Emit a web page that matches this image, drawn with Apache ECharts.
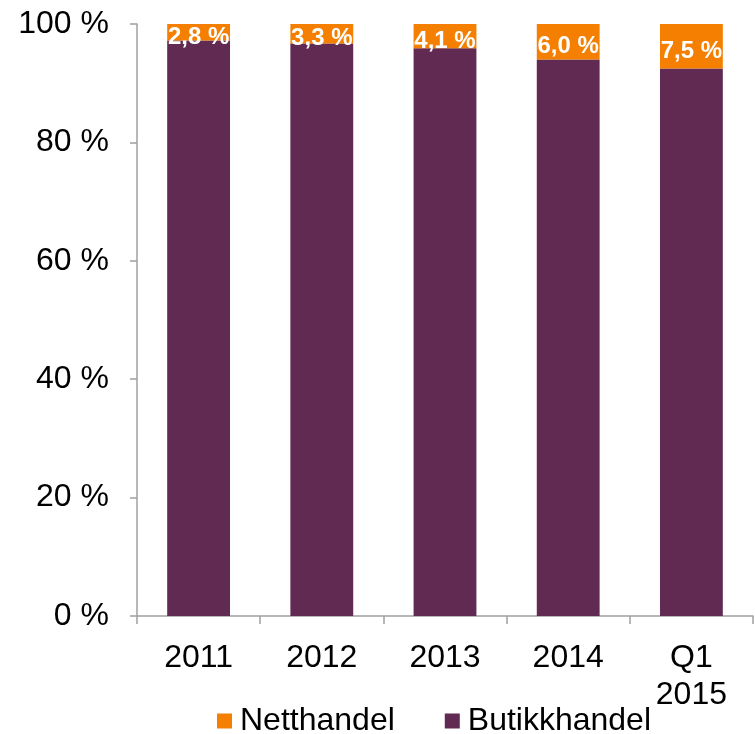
<!DOCTYPE html>
<html>
<head>
<meta charset="utf-8">
<script src="https://cdn.jsdelivr.net/npm/echarts@6/dist/echarts.min.js"></script>
<style>
  html, body { margin: 0; padding: 0; background: #fff; }
  #main { width: 755px; height: 734px; }
</style>
</head>
<body>
<div id="main"></div>
<script>
const categories = ['2011', '2012', '2013', '2014', 'Q1\n2015'];
const netthandel = [2.8, 3.3, 4.1, 6.0, 7.5];
const butikkhandel = [97.2, 96.7, 95.9, 94.0, 92.5];
const yTicks = [0, 20, 40, 60, 80, 100];

const font = 'Liberation Sans, Arial, sans-serif';
const chart = echarts.init(document.getElementById('main'));

chart.setOption({
  animation: false,
  grid: { left: 137, right: 2, top: 24, bottom: 118, containLabel: false },
  legend: {
    bottom: -8,
    left: 212,
    itemWidth: 15,
    itemHeight: 15,
    itemGap: 50,
    icon: 'rect',
    textStyle: { fontFamily: font, fontSize: 32, color: '#000', padding: [0, 0, 0, 3] },
    data: ['Netthandel', 'Butikkhandel']
  },
  xAxis: {
    type: 'category',
    data: categories,
    axisLine: { lineStyle: { color: '#A0A0A0', width: 1.5 } },
    axisTick: { show: true, length: 8, lineStyle: { color: '#A0A0A0', width: 1.5 } },
    axisLabel: { fontFamily: font, fontSize: 32, color: '#000', margin: 24, lineHeight: 37 }
  },
  yAxis: {
    type: 'value',
    min: yTicks[0],
    max: yTicks[yTicks.length - 1],
    interval: 20,
    axisLine: { show: true, lineStyle: { color: '#A0A0A0', width: 1.5 } },
    axisTick: { show: true, length: 7, lineStyle: { color: '#A0A0A0', width: 1.5 } },
    splitLine: { show: false },
    axisLabel: {
      fontFamily: font, fontSize: 32, color: '#000', margin: 28,
      formatter: v => v + ' %'
    }
  },
  series: [
    {
      name: 'Butikkhandel',
      type: 'bar',
      stack: 'total',
      barWidth: '51%',
      itemStyle: { color: '#612A52' },
      data: butikkhandel
    },
    {
      name: 'Netthandel',
      type: 'bar',
      stack: 'total',
      itemStyle: { color: '#F47F00' },
      data: netthandel,
      label: {
        show: true,
        position: 'inside',
        offset: [0, 5],
        color: '#fff',
        fontFamily: font,
        fontWeight: 'bold',
        fontSize: 24,
        formatter: p => p.value.toFixed(1).replace('.', ',') + ' %'
      }
    }
  ]
});
window.addEventListener('resize', chart.resize);
</script>
</body>
</html>
